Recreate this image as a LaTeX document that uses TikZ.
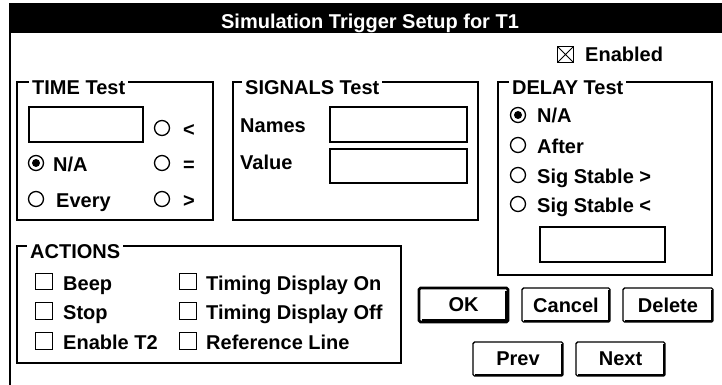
\documentclass[tikz,border=0pt]{standalone}
\usepackage{fontspec}
\setmainfont{Liberation Sans}
\newcommand\dlgfont{\fontsize{20}{22}\selectfont\bfseries}
\begin{document}
\begin{tikzpicture}[x=1pt,y=-1pt,
  txt/.style={inner sep=0, anchor=base west, font=\dlgfont},
  frame/.style={line width=1.3pt},
  grouptitle/.style={txt, fill=white, inner xsep=3pt, inner ysep=2pt},
  field/.style={draw, line width=1.3pt, inner sep=0, outer sep=0},
  radio/.style={circle, draw, line width=1.3pt, minimum size=15pt, inner sep=0},
  chk/.style={draw, line width=1.3pt, minimum size=16.5pt, inner sep=0, outer sep=0},
  btn/.style={draw, line width=1.4pt, rounded corners=1.5pt, inner sep=0, outer sep=0, font=\dlgfont, minimum height=34pt},
  defbtn/.style={btn, line width=2.6pt},
  shadow/.style={line width=2.2pt},
]
\useasboundingbox (0,0) rectangle (722,385);
\fill[white] (0,0) rectangle (722,385);
% window
\fill (9,3) rectangle (722,33);
\draw[line width=1.6pt] (10,33) -- (10,385);
\node[txt, anchor=base, text=white] (title) at (370,28.5) {Simulation Trigger Setup for T1};

% Enabled
\node[chk, minimum size=15.5pt] (en) at (565.5,54.5) {};
\draw[line width=1pt] (en.north west) -- (en.south east) (en.north east) -- (en.south west);
\node[txt] (entxt) at (585,62) {Enabled};

% TIME Test
\draw[frame] (17,82) rectangle (213,220);
\node[grouptitle] (timet) at (29,95) {TIME Test};
\node[field, minimum width=114pt, minimum height=35pt] (tfield) at (86,124.5) {};
\node[radio] (tlt) at (162,128) {};
\node[txt] (tltx) at (183,136) {<};
\node[radio] (tna) at (36,163) {};
\fill (tna.center) circle (4);
\node[txt] (tnax) at (53,171.5) {N/A};
\node[radio] (teq) at (162,163) {};
\node[txt] (teqx) at (183,171) {=};
\node[radio] (tev) at (36,199) {};
\node[txt] (tevx) at (56,207) {Every};
\node[radio] (tgt) at (162,199) {};
\node[txt] (tgtx) at (183,207) {>};

% SIGNALS Test
\draw[frame] (233,82) rectangle (478,220);
\node[grouptitle] (sigt) at (242,95) {SIGNALS Test};
\node[txt] (names) at (240,132) {Names};
\node[field, minimum width=137pt, minimum height=35pt] (nfield) at (398.5,124.5) {};
\node[txt] (value) at (240,169) {Value};
\node[field, minimum width=137pt, minimum height=34pt] (vfield) at (398.5,166) {};

% DELAY Test
\draw[frame] (498,82) rectangle (712,275);
\node[grouptitle] (delt) at (509,95) {DELAY Test};
\node[radio] (dna) at (518,115) {};
\fill (dna.center) circle (4);
\node[txt] (dnax) at (537,123) {N/A};
\node[radio] (daf) at (518,145) {};
\node[txt] (dafx) at (537,153) {After};
\node[radio] (dgt) at (518,175) {};
\node[txt] (dgtx) at (537,183) {Sig Stable >};
\node[radio] (dlt) at (518,204) {};
\node[txt] (dltx) at (537,212) {Sig Stable <};
\node[field, minimum width=125pt, minimum height=35pt] (dfield) at (602.5,244.5) {};

% ACTIONS
\draw[frame] (17,246) rectangle (401,363);
\node[grouptitle] (actt) at (27,258) {ACTIONS};
\node[chk] (cbeep) at (44,281.5) {};
\node[txt] (beep) at (63,290) {Beep};
\node[chk] (cstop) at (44,311) {};
\node[txt] (stop) at (63,319.5) {Stop};
\node[chk] (cen2) at (44,341) {};
\node[txt] (en2) at (63,349.5) {Enable T2};
\node[chk] (con) at (188,281.5) {};
\node[txt] (ton) at (206,290) {Timing Display On};
\node[chk] (coff) at (188,311) {};
\node[txt] (toff) at (206,319.5) {Timing Display Off};
\node[chk] (cref) at (188,341) {};
\node[txt] (ref) at (206,349.5) {Reference Line};

% Buttons
\node[defbtn, minimum width=89pt] (ok) at (463.5,305) {OK};
\node[btn, minimum width=88pt] (cancel) at (566,305) {Cancel};
\node[btn, minimum width=90pt] (delete) at (668,305) {Delete};
\node[btn, minimum width=90pt] (prev) at (518,359) {Prev};
\node[btn, minimum width=89pt] (next) at (620.5,359) {Next};
\foreach \b in {cancel,delete,prev,next}{
  \draw[shadow] ([xshift=-1.2pt,yshift=-2pt]\b.north east) -- ([xshift=-1.2pt,yshift=1.2pt]\b.south east) -- ([xshift=2pt,yshift=1.2pt]\b.south west);
}
\draw[line width=2pt] ([xshift=-2.4pt,yshift=-3pt]ok.north east) -- ([xshift=-2.4pt,yshift=2.4pt]ok.south east) -- ([xshift=3pt,yshift=2.4pt]ok.south west);
\end{tikzpicture}
\end{document}
